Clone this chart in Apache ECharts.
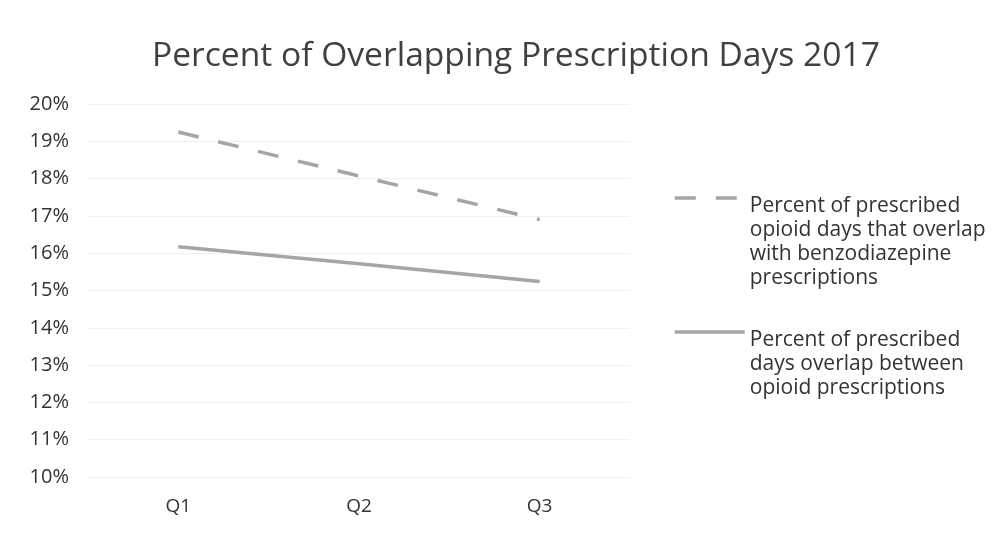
<!DOCTYPE html>
<html>
<head>
<meta charset="utf-8">
<style>
  html, body { margin: 0; padding: 0; background: #ffffff; }
  #chart { width: 1001px; height: 535px; }
</style>
<script src="https://cdn.jsdelivr.net/npm/echarts@6/dist/echarts.min.js"></script>
</head>
<body>
<div id="chart"></div>
<script>
// Quarters on the x axis
const quarters = ['Q1', 'Q2', 'Q3'];

// Percent values per quarter
const opioidBenzoOverlap = [19.25, 18.07, 16.9];
const opioidOpioidOverlap = [16.17, 15.72, 15.24];

// Series names (legend text, wrapped as drawn)
const benzoName = 'Percent of prescribed\nopioid days that overlap\nwith benzodiazepine\nprescriptions';
const opioidName = 'Percent of prescribed\ndays overlap between\nopioid prescriptions';

const chart = echarts.init(document.getElementById('chart'), null, { renderer: 'canvas' });
const lineColor = '#a5a5a5';
const textColor = '#333333';
const fontFamily = '"Open Sans", "Noto Sans", sans-serif';
const lh = 24;
const drop = 8; // first legend line sits a little below the icon

// Leading spacer lines so the first text line lines up with the legend icon
function padLegend(name) {
  const n = name.split('\n').length;
  const spacer = [];
  for (let i = 0; i < n - 1; i++) spacer.push('{p' + n + '| }');
  return spacer.join('\n') + '\n' + name;
}
function legendBlock(name, iconY) {
  const n = name.split('\n').length;
  const padTotal = (n - 1) * lh + 2 * drop;
  const total = padTotal + n * lh;
  const rich = {};
  rich['p' + n] = { lineHeight: padTotal / (n - 1), fontSize: 2 };
  return {
    data: [name],
    orient: 'vertical',
    left: 668,
    top: iconY - total / 2,
    itemWidth: 70,
    itemHeight: 14,
    itemGap: 0,
    itemStyle: { color: 'rgba(0,0,0,0)', borderWidth: 0 },
    lineStyle: { width: 3.5 },
    formatter: padLegend,
    textStyle: { fontFamily, fontSize: 21, color: textColor, lineHeight: lh, rich }
  };
}

chart.setOption({
  backgroundColor: '#ffffff',
  animation: false,
  title: {
    text: 'Percent of Overlapping Prescription Days 2017',
    left: 147,
    top: 34,
    textStyle: { fontFamily, fontSize: 33.6, fontWeight: 'normal', color: '#404040' }
  },
  legend: [legendBlock(benzoName, 193), legendBlock(opioidName, 327)],
  grid: { left: 88, right: 371, top: 104, bottom: 58 },
  xAxis: {
    type: 'category',
    data: quarters,
    boundaryGap: true,
    axisLine: { show: false },
    axisTick: { show: false },
    axisLabel: { fontFamily, fontSize: 19, color: textColor, margin: 20 }
  },
  yAxis: {
    type: 'value',
    min: 10,
    max: 20,
    interval: 1,
    axisLine: { show: false },
    axisTick: { show: false },
    axisLabel: { fontFamily, fontSize: 20, color: textColor, margin: 19, formatter: v => v + '%' },
    splitLine: { lineStyle: { color: '#f0f0f0', width: 1 } }
  },
  series: [
    {
      name: benzoName,
      type: 'line',
      data: opioidBenzoOverlap,
      symbol: 'none',
      lineStyle: { color: lineColor, width: 3.5, type: [21, 20] },
      itemStyle: { color: lineColor }
    },
    {
      name: opioidName,
      type: 'line',
      data: opioidOpioidOverlap,
      symbol: 'none',
      lineStyle: { color: lineColor, width: 3.5 },
      itemStyle: { color: lineColor }
    }
  ]
});
</script>
</body>
</html>
